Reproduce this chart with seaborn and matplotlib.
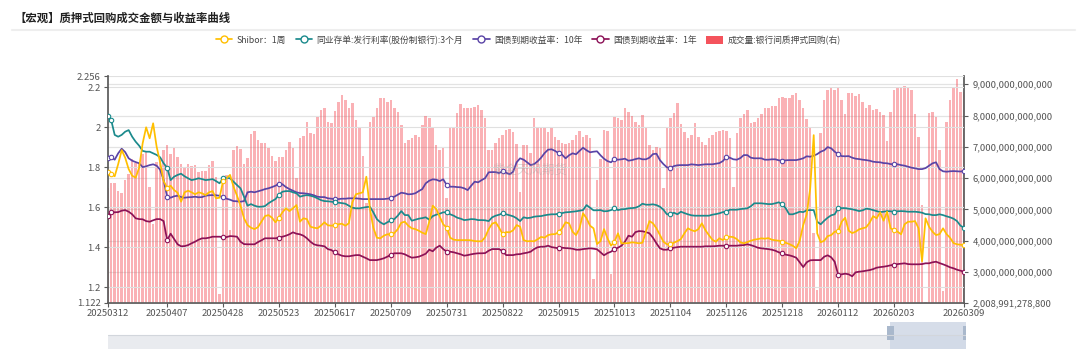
import numpy as np
import pandas as pd
import matplotlib
matplotlib.use("Agg")
import matplotlib.pyplot as plt
import seaborn as sns
from matplotlib.ticker import FuncFormatter, FixedLocator
from matplotlib.lines import Line2D
from matplotlib.patches import Patch, Rectangle

sns.set_theme(style="white")
plt.rcParams["font.family"] = ["Noto Sans CJK SC", "DejaVu Sans"]
plt.rcParams["axes.unicode_minus"] = False

# ---------------- data ----------------
title = "【宏观】质押式回购成交金额与收益率曲线"
series_names = ["Shibor：1周", "同业存单:发行利率(股份制银行):3个月",
                "国债到期收益率：10年", "国债到期收益率：1年", "成交量:银行间质押式回购(右)"]

start_date = "2025-03-12"
end_date = "2026-03-09"
holidays = ["2025-04-04", "2025-05-01", "2025-05-02", "2025-05-05", "2025-06-02",
            "2025-10-01", "2025-10-02", "2025-10-03", "2025-10-06", "2025-10-07", "2025-10-08",
            "2026-01-01", "2026-01-02", "2026-02-16", "2026-02-17", "2026-02-18",
            "2026-02-19", "2026-02-20", "2026-02-23"]
makeup_days = ["2025-04-27", "2025-09-28", "2025-10-11", "2026-01-04", "2026-02-14", "2026-02-28"]

tick_labels = ["20250312", "20250407", "20250428", "20250523", "20250617", "20250709",
               "20250731", "20250822", "20250915", "20251013", "20251104", "20251126",
               "20251218", "20260112", "20260203", "20260309"]

shibor_1w = [
    1.778, 1.768, 1.755, 1.816, 1.886, 1.848, 1.791, 1.758, 1.748, 1.798,
    1.92, 2.0, 1.945, 2.02, 1.903, 1.825, 1.731, 1.698, 1.708, 1.686,
    1.673, 1.628, 1.675, 1.683, 1.675, 1.665, 1.675, 1.67, 1.661, 1.675,
    1.681, 1.645, 1.648, 1.731, 1.745, 1.762, 1.703, 1.658, 1.608, 1.545,
    1.511, 1.498, 1.491, 1.501, 1.528, 1.556, 1.561, 1.548, 1.525, 1.548,
    1.575, 1.595, 1.581, 1.595, 1.611, 1.528, 1.545, 1.541, 1.503, 1.498,
    1.495, 1.508, 1.525,
    1.51, 1.508, 1.511, 1.515, 1.518, 1.508, 1.52, 1.625, 1.665, 1.67,
    1.675, 1.753, 1.595, 1.498, 1.448, 1.445, 1.458, 1.465, 1.465, 1.471,
    1.491, 1.523, 1.528, 1.508, 1.495, 1.491, 1.483, 1.473, 1.466, 1.528,
    1.608, 1.591, 1.553, 1.515, 1.498, 1.448, 1.438, 1.436, 1.436, 1.436,
    1.436, 1.435, 1.431, 1.43, 1.43, 1.451, 1.491, 1.518, 1.525, 1.498,
    1.465, 1.476, 1.475, 1.485, 1.511, 1.503, 1.436, 1.43, 1.431, 1.43,
    1.44, 1.452,
    1.448, 1.461, 1.465, 1.466, 1.475, 1.495, 1.525, 1.52, 1.478, 1.461,
    1.495, 1.57, 1.545, 1.508, 1.495, 1.416, 1.431, 1.491, 1.445, 1.408,
    1.428, 1.47, 1.42, 1.42, 1.421, 1.425, 1.423, 1.42, 1.423, 1.478,
    1.531, 1.52, 1.495, 1.461, 1.428, 1.415, 1.415, 1.423, 1.431, 1.441,
    1.47, 1.495, 1.486, 1.48, 1.491, 1.52, 1.486, 1.461, 1.438, 1.428,
    1.445, 1.436, 1.45, 1.453, 1.451, 1.441, 1.425, 1.42, 1.426, 1.433,
    1.438, 1.441, 1.445,
    1.443, 1.446, 1.438, 1.435, 1.433, 1.428, 1.423, 1.416, 1.408, 1.395,
    1.433, 1.511, 1.565, 1.695, 1.961, 1.47, 1.425, 1.433, 1.456, 1.461,
    1.478, 1.481, 1.528, 1.548, 1.483, 1.471, 1.478, 1.49, 1.495, 1.5,
    1.523, 1.556, 1.545, 1.575, 1.533, 1.578, 1.495, 1.486, 1.478, 1.465,
    1.515, 1.528, 1.528, 1.531, 1.495, 1.33, 1.545, 1.503, 1.478, 1.461,
    1.466, 1.495, 1.466, 1.448, 1.421, 1.415, 1.413, 1.411,
]

ncd_3m = [
    2.058, 2.036, 1.962, 1.953, 1.962, 1.978, 1.986, 1.953, 1.928, 1.908,
    1.882, 1.878, 1.878, 1.87, 1.862, 1.85, 1.82, 1.798, 1.736, 1.753,
    1.762, 1.768, 1.755, 1.745, 1.736, 1.74, 1.745, 1.741, 1.736, 1.738,
    1.741, 1.731, 1.72, 1.745, 1.748, 1.745, 1.728, 1.711, 1.695, 1.653,
    1.608, 1.616, 1.608, 1.603, 1.603, 1.606, 1.62, 1.631, 1.641, 1.662,
    1.678, 1.681, 1.681, 1.675, 1.67, 1.653, 1.658, 1.661, 1.658, 1.653,
    1.645, 1.636, 1.631,
    1.63, 1.628, 1.625, 1.623, 1.621, 1.618, 1.608, 1.598, 1.595, 1.595,
    1.598, 1.601, 1.603, 1.575, 1.541, 1.525, 1.515, 1.525, 1.535, 1.541,
    1.558, 1.581, 1.561, 1.561, 1.533, 1.538, 1.543, 1.546, 1.55, 1.538,
    1.556, 1.563, 1.568, 1.575, 1.575, 1.565, 1.558, 1.548, 1.543, 1.536,
    1.538, 1.541, 1.54, 1.536, 1.536, 1.535, 1.531, 1.55, 1.558, 1.563,
    1.57, 1.565, 1.56, 1.555, 1.545, 1.531, 1.55, 1.546, 1.548, 1.553,
    1.555, 1.556,
    1.56, 1.563, 1.565, 1.565, 1.568, 1.571, 1.575, 1.576, 1.578, 1.58,
    1.583, 1.586, 1.611, 1.598, 1.585, 1.585, 1.586, 1.58, 1.581, 1.586,
    1.595, 1.586, 1.59, 1.591, 1.595, 1.596, 1.598, 1.605, 1.618, 1.613,
    1.613, 1.615, 1.611, 1.603, 1.588, 1.565, 1.565, 1.573, 1.565, 1.578,
    1.571, 1.565, 1.56, 1.558, 1.558, 1.558, 1.558, 1.558, 1.563, 1.566,
    1.57, 1.576, 1.578, 1.588, 1.588, 1.588, 1.591, 1.593, 1.595, 1.605,
    1.62, 1.62, 1.62,
    1.618, 1.616, 1.616, 1.62, 1.625, 1.615, 1.595, 1.565, 1.565, 1.571,
    1.578, 1.576, 1.585, 1.586, 1.586, 1.528, 1.515, 1.533, 1.548, 1.56,
    1.565, 1.595, 1.596, 1.596, 1.593, 1.59, 1.586, 1.581, 1.585, 1.593,
    1.591, 1.586, 1.581, 1.576, 1.578, 1.581, 1.58, 1.578, 1.58, 1.581,
    1.58, 1.578, 1.578, 1.578, 1.576, 1.573, 1.566, 1.565, 1.561, 1.561,
    1.565, 1.561, 1.555, 1.55, 1.543, 1.531, 1.508, 1.498,
]

cgb_10y = [
    1.845, 1.851, 1.838, 1.87, 1.893, 1.876, 1.845, 1.833, 1.826, 1.82,
    1.801, 1.805, 1.811, 1.815, 1.808, 1.788, 1.736, 1.653, 1.648, 1.655,
    1.658, 1.651, 1.648, 1.65, 1.651, 1.653, 1.65, 1.651, 1.658, 1.66,
    1.661, 1.66, 1.658, 1.65, 1.643, 1.638, 1.631, 1.63, 1.628, 1.631,
    1.675, 1.678, 1.675, 1.68, 1.685, 1.691, 1.695, 1.701, 1.708, 1.718,
    1.715, 1.701, 1.691, 1.683, 1.675, 1.671, 1.67, 1.668, 1.665, 1.66,
    1.653, 1.651, 1.651,
    1.645, 1.643, 1.641, 1.641, 1.643, 1.643, 1.645, 1.645, 1.645, 1.643,
    1.641, 1.641, 1.641, 1.641, 1.641, 1.641, 1.641, 1.643, 1.646, 1.653,
    1.663, 1.673, 1.67, 1.665, 1.666, 1.67, 1.681, 1.691, 1.72, 1.733,
    1.74, 1.738, 1.731, 1.74, 1.711, 1.703, 1.703, 1.701, 1.7, 1.695,
    1.686, 1.708, 1.728, 1.725, 1.736, 1.746, 1.775, 1.776, 1.776, 1.771,
    1.781, 1.773, 1.765, 1.778, 1.825, 1.845, 1.838, 1.825, 1.811, 1.816,
    1.83, 1.848,
    1.871, 1.888, 1.89, 1.882, 1.871, 1.863, 1.845, 1.86, 1.87, 1.865,
    1.882, 1.898, 1.885, 1.875, 1.878, 1.88, 1.86, 1.843, 1.831, 1.825,
    1.841, 1.838, 1.84, 1.843, 1.833, 1.836, 1.841, 1.845, 1.84, 1.84,
    1.848, 1.866, 1.868, 1.836, 1.816, 1.8, 1.796, 1.806, 1.81, 1.811,
    1.811, 1.811, 1.815, 1.813, 1.811, 1.813, 1.815, 1.815, 1.815, 1.818,
    1.821, 1.831, 1.851, 1.848, 1.84, 1.838, 1.846, 1.861, 1.861, 1.848,
    1.845, 1.845, 1.845,
    1.838, 1.838, 1.84, 1.84, 1.835, 1.833, 1.835, 1.836, 1.836, 1.836,
    1.84, 1.845, 1.855, 1.853, 1.858, 1.866, 1.878, 1.885, 1.901, 1.895,
    1.878, 1.866, 1.856, 1.855, 1.856, 1.848, 1.843, 1.841, 1.838, 1.836,
    1.833, 1.828, 1.826, 1.825, 1.821, 1.82, 1.816, 1.815, 1.815, 1.811,
    1.808, 1.803, 1.798, 1.795, 1.791, 1.791, 1.796, 1.808, 1.82, 1.825,
    1.791, 1.78, 1.778, 1.78, 1.781, 1.78, 1.779, 1.781,
]

cgb_1y = [
    1.558, 1.578, 1.575, 1.576, 1.583, 1.586, 1.578, 1.565, 1.545, 1.541,
    1.54, 1.531, 1.528, 1.535, 1.541, 1.541, 1.531, 1.435, 1.468, 1.441,
    1.415, 1.405, 1.406, 1.411, 1.42, 1.428, 1.438, 1.445, 1.445, 1.448,
    1.453, 1.453, 1.453, 1.451, 1.451, 1.456, 1.455, 1.453, 1.428, 1.416,
    1.415, 1.415, 1.415, 1.426, 1.435, 1.445, 1.445, 1.445, 1.445, 1.448,
    1.453, 1.458, 1.465, 1.475, 1.468, 1.465, 1.458, 1.445, 1.428, 1.415,
    1.41, 1.408, 1.405,
    1.391, 1.386, 1.375, 1.365, 1.358, 1.355, 1.355, 1.358, 1.361, 1.361,
    1.353, 1.345, 1.336, 1.336, 1.336, 1.34, 1.345, 1.353, 1.363, 1.37,
    1.37, 1.37, 1.365, 1.356, 1.348, 1.35, 1.353, 1.36, 1.368, 1.388,
    1.38, 1.398, 1.408, 1.391, 1.378, 1.378, 1.375, 1.37, 1.365, 1.358,
    1.361, 1.365, 1.368, 1.37, 1.37, 1.371, 1.383, 1.391, 1.391, 1.391,
    1.381, 1.361, 1.361, 1.361, 1.365, 1.366, 1.37, 1.373, 1.378, 1.391,
    1.4, 1.403,
    1.403, 1.408, 1.401, 1.398, 1.395, 1.398, 1.396, 1.395, 1.393, 1.388,
    1.388, 1.391, 1.393, 1.395, 1.393, 1.39, 1.375, 1.36, 1.371, 1.378,
    1.39, 1.398, 1.408, 1.428, 1.458, 1.453, 1.476, 1.481, 1.48, 1.476,
    1.47, 1.448, 1.42, 1.395, 1.388, 1.388, 1.395, 1.398, 1.401, 1.403,
    1.403, 1.403, 1.403, 1.403, 1.403, 1.403, 1.405, 1.405, 1.405, 1.406,
    1.408, 1.408, 1.408, 1.408, 1.408, 1.408, 1.41, 1.411, 1.415, 1.411,
    1.405, 1.398, 1.395,
    1.393, 1.391, 1.388, 1.383, 1.375, 1.37, 1.363, 1.36, 1.355, 1.348,
    1.325, 1.301, 1.325, 1.335, 1.336, 1.336, 1.336, 1.353, 1.36, 1.35,
    1.328, 1.262, 1.265, 1.268, 1.265, 1.255, 1.275, 1.278, 1.28, 1.283,
    1.286, 1.291, 1.298, 1.301, 1.303, 1.306, 1.31, 1.313, 1.316, 1.318,
    1.32, 1.316, 1.315, 1.315, 1.315, 1.316, 1.32, 1.32, 1.325, 1.328,
    1.321, 1.315, 1.308, 1.3, 1.295, 1.288, 1.283, 1.278,
]

# 成交量 (trillion yuan)
repo_volume_tn = [
    5.67, 5.85, 5.85, 5.60, 5.53, 5.94, 6.13, 6.60, 6.47, 6.47,
    6.76, 6.87, 5.72, 4.53, 6.50, 6.60, 6.90, 7.06, 6.77, 6.95,
    6.66, 6.45, 6.31, 6.44, 6.39, 6.42, 6.20, 6.24, 6.23, 6.42,
    6.56, 6.05, 2.28, 6.05, 6.10, 4.34, 6.90, 7.03, 6.92, 6.45,
    6.63, 7.41, 7.50, 7.22, 7.11, 7.13, 6.95, 6.71, 6.56, 6.69,
    6.69, 6.90, 7.16, 6.95, 6.00, 7.27, 7.35, 7.80, 7.45, 7.41,
    7.94, 8.18, 8.23,
    7.80, 7.75, 8.15, 8.42, 8.66, 8.50, 8.25, 8.39, 7.86, 7.59,
    6.72, 5.19, 7.80, 7.96, 8.25, 8.55, 8.57, 8.44, 8.50, 8.23,
    8.10, 7.70, 7.11, 7.22, 7.27, 7.38, 7.33, 7.70, 8.00, 7.93,
    7.65, 7.06, 6.90, 6.97, 5.36, 7.65, 7.59, 8.07, 8.36, 8.23,
    8.23, 8.23, 8.28, 8.34, 8.18, 7.91, 6.90, 6.90, 7.11, 7.29,
    7.38, 7.54, 7.57, 7.48, 7.08, 5.57, 7.06, 7.06, 6.79, 7.91,
    7.64, 7.59,
    7.61, 7.46, 7.59, 7.32, 7.22, 7.11, 7.08, 7.12, 7.21, 7.38,
    7.51, 7.32, 7.38, 7.27, 2.77, 5.94, 6.60, 7.54, 7.51, 2.92,
    7.96, 7.91, 7.86, 8.23, 8.12, 8.00, 7.80, 7.70, 8.02, 7.59,
    7.06, 6.90, 7.00, 6.95, 5.67, 7.64, 7.91, 8.07, 8.39, 7.72,
    7.48, 7.27, 7.38, 7.75, 7.32, 7.17, 7.06, 7.27, 7.38, 7.46,
    7.51, 7.54, 7.51, 7.27, 5.73, 7.43, 7.91, 8.04, 8.18, 7.75,
    7.80, 7.93, 8.04,
    8.23, 8.25, 8.32, 8.30, 8.55, 8.60, 8.55, 8.57, 8.66, 8.71,
    8.50, 8.23, 7.89, 7.61, 4.23, 2.42, 7.43, 8.50, 8.82, 8.89,
    8.82, 8.89, 8.50, 8.04, 8.71, 8.71, 8.64, 8.68, 8.44, 8.25,
    8.35, 8.18, 8.22, 8.10, 8.02, 7.20, 8.12, 8.82, 8.89, 8.92,
    8.96, 8.92, 8.82, 8.04, 7.30, 5.14, 2.05, 8.07, 8.10, 7.96,
    6.90, 2.39, 7.80, 8.50, 8.89, 9.17, 8.76, 8.76,
]

left_ticks = [1.122, 1.2, 1.4, 1.6, 1.8, 2.0, 2.2, 2.256]
left_tick_labels = ["1.122", "1.2", "1.4", "1.6", "1.8", "2", "2.2", "2.256"]
right_ticks = [2008991278800, 3e12, 4e12, 5e12, 6e12, 7e12, 8e12, 9e12]
right_top = 9.262e12

# ---------------- build table ----------------
days = pd.bdate_range(start_date, end_date)
days = days.difference(pd.to_datetime(holidays)).union(pd.to_datetime(makeup_days)).sort_values()
date_str = list(days.strftime("%Y%m%d"))
n = len(shibor_1w)
date_str = date_str[:n]

df = pd.DataFrame({
    "idx": np.arange(n),
    "date": date_str,
    "shibor": shibor_1w,
    "ncd": ncd_3m,
    "cgb10": cgb_10y,
    "cgb1": cgb_1y,
    "vol": np.array(repo_volume_tn) * 1e12,
})

tick_pos = [date_str.index(t) for t in tick_labels]
marker_idx = sorted(set([0, 1] + tick_pos[1:-1] + [n - 1]))

c_shibor = "#ffbf00"
c_ncd = "#1b8a8c"
c_10y = "#5a44a6"
c_1y = "#8c1257"
c_bar = "#f4535c"
txt_c = "#555555"
axis_c = "#5a5a5a"

# ---------------- figure ----------------
fig = plt.figure(figsize=(10.8, 3.49), dpi=100)
fig.patch.set_facecolor("white")
ax_b = fig.add_axes([107.7 / 1080, 46.1 / 349, 856.3 / 1080, 226.8 / 349])
ax_l = ax_b.twinx()

# bars (right axis)
sns.barplot(data=df, x="idx", y="vol", ax=ax_b, color=c_bar, alpha=0.45,
            saturation=1, width=0.72, errorbar=None, linewidth=0)
ax_b.set_ylim(right_ticks[0], right_top)
ax_b.yaxis.tick_right()
ax_b.yaxis.set_label_position("right")
ax_b.yaxis.set_major_locator(FixedLocator(right_ticks))
ax_b.yaxis.set_major_formatter(FuncFormatter(lambda v, p: f"{v:,.0f}"))
ax_b.set_axisbelow(True)
ax_b.grid(axis="y", color="#e3e3e3", linewidth=0.9)
ax_b.grid(axis="x", visible=False)

# lines (left axis)
for col, c in [("cgb1", c_1y), ("cgb10", c_10y), ("ncd", c_ncd), ("shibor", c_shibor)]:
    sns.lineplot(data=df, x="idx", y=col, ax=ax_l, color=c, linewidth=1.25)
    sub = df.iloc[marker_idx]
    ax_l.plot(sub["idx"], sub[col], linestyle="none", marker="o", ms=3.2,
              mfc="white", mec=c, mew=0.8, zorder=5)
ax_l.set_ylim(1.122, 2.256)
ax_l.yaxis.tick_left()
ax_l.yaxis.set_label_position("left")
ax_l.set_yticks(left_ticks, labels=left_tick_labels)
ax_l.grid(axis="y", color="#e0e0e0", linewidth=0.8)
ax_l.grid(axis="x", visible=False)
ax_l.set_axisbelow(True)

ax_b.set_xlim(0, n - 1)
ax_b.set_xticks(tick_pos, labels=tick_labels)
for a in (ax_b, ax_l):
    a.set_xlabel("")
    a.set_ylabel("")
    for s in a.spines.values():
        s.set_visible(False)

ax_l.spines["left"].set_visible(True)
ax_l.spines["left"].set_color(axis_c)
ax_b.spines["right"].set_visible(True)
ax_b.spines["right"].set_color(axis_c)
ax_b.spines["bottom"].set_visible(True)
ax_b.spines["bottom"].set_color(axis_c)

ax_b.tick_params(axis="x", length=3, width=0.8, color=axis_c, labelsize=6.8,
                 labelcolor=txt_c, pad=1.5, bottom=True)
ax_b.tick_params(axis="y", length=3, width=0.8, color=axis_c, labelsize=6.8,
                 labelcolor=txt_c, pad=3, right=True, left=False)
ax_l.tick_params(axis="y", length=3, width=0.8, color=axis_c, labelsize=6.8,
                 labelcolor=txt_c, pad=2, left=True, right=False)

# title + separator
fig.text(15 / 1080, 1 - 18 / 349, title, fontsize=8.2, fontweight="bold",
         color="#222222", va="center", ha="left")
fig.add_artist(Line2D([12 / 1080, 1075 / 1080], [1 - 30 / 349] * 2,
                      transform=fig.transFigure, color="#eeeeee", lw=1.5))

# legend
handles = [
    Line2D([0], [0], color=c_shibor, lw=1.25, marker="o", ms=5, mfc="white", mec=c_shibor),
    Line2D([0], [0], color=c_ncd, lw=1.25, marker="o", ms=5, mfc="white", mec=c_ncd),
    Line2D([0], [0], color=c_10y, lw=1.25, marker="o", ms=5, mfc="white", mec=c_10y),
    Line2D([0], [0], color=c_1y, lw=1.25, marker="o", ms=5, mfc="white", mec=c_1y),
    Patch(facecolor=c_bar, edgecolor="none"),
]
leg = fig.legend(handles, series_names, loc="center", bbox_to_anchor=(528 / 1080, 1 - 40 / 349),
                 ncol=5, frameon=False, fontsize=6.3, handlelength=1.9, handleheight=1.0,
                 columnspacing=1.1, handletextpad=0.5)
for t in leg.get_texts():
    t.set_color("#444444")

# watermark
fig.text(530 / 1080, 1 - 170 / 349, "紫金天风期货", fontsize=9, color="#9a9a9a",
         alpha=0.35, ha="center", va="center")

# data-zoom slider (decoration)
ax_s = fig.add_axes([108 / 1080, 0, 858 / 1080, 27 / 349])
ax_s.set_xlim(0, 1)
ax_s.set_ylim(0, 1)
ax_s.axis("off")
ax_s.axhspan(0, 0.52, color="#e9ebef", lw=0)
ax_s.axhline(0.52, color="#d2d6dc", lw=0.8)
ax_s.axvspan(0.912, 1.0, color="#cfd8e6", alpha=0.85, lw=0)
for hx in (0.912, 1.0):
    ax_s.add_patch(Rectangle((hx - 0.004, 0.35), 0.008, 0.5, facecolor="#a9b8cc",
                             edgecolor="none"))

fig.savefig("out.png", dpi=100, facecolor="white")
